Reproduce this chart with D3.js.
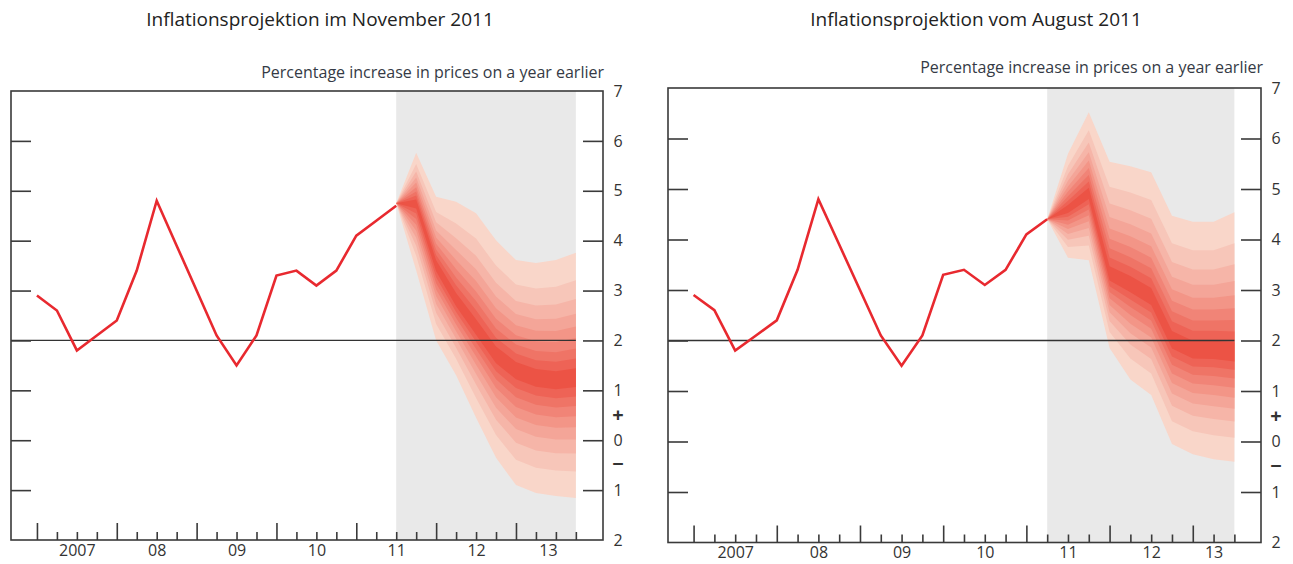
<!DOCTYPE html>
<html>
<head>
<meta charset="utf-8">
<script src="https://cdnjs.cloudflare.com/ajax/libs/d3/7.8.5/d3.min.js"></script>
<style>
  body { margin: 0; background: #fff; }
  svg { display: block; font-family: "Open Sans", "Noto Sans", sans-serif; }
</style>
</head>
<body>
<svg id="chart" width="1293" height="564"></svg>
<script>
// quarterly CPI inflation, index 0 = 2007 Q1
const cpiHistory = [2.9, 2.6, 1.8, 2.1, 2.4, 3.4, 4.8, 3.9, 3.0, 2.1, 1.5, 2.1, 3.3, 3.4, 3.1, 3.4, 4.1, 4.4, 4.7];
const yearLabels = ["2007", "08", "09", "10", "11", "12", "13"];
const yTickValues = [6, 5, 4, 3, 2, 1, 0, -1];
const yLabelValues = [7, 6, 5, 4, 3, 2, 1, 0, -1, -2];

// November 2011 fan (mode and outer 90% bounds)
const novQuarters = [18, 19, 20, 21, 22, 23, 24, 25, 26, 27];
const novMode  = [4.75, 4.75, 3.5, 2.8, 2.25, 1.7, 1.4, 1.25, 1.2, 1.25];
const novUpper = [4.75, 5.76, 4.88, 4.78, 4.55, 4.01, 3.61, 3.55, 3.61, 3.76];
const novLower = [4.75, 3.4, 2.0, 1.3, 0.45, -0.35, -0.9, -1.06, -1.12, -1.16];

// August 2011 fan
const augQuarters = [17, 18, 19, 20, 21, 22, 23, 24, 25, 26];
const augMode  = [4.4, 4.6, 4.9, 3.3, 3.1, 2.85, 2.0, 1.8, 1.8, 1.75];
const augUpper = [4.4, 5.7, 6.52, 5.54, 5.45, 5.33, 4.47, 4.35, 4.35, 4.54];
const augLower = [4.4, 3.64, 3.59, 1.85, 1.23, 0.92, -0.05, -0.25, -0.35, -0.4];

// standard normal quantiles for central 10%..90% bands
const Z = [0.1257, 0.2533, 0.3853, 0.5244, 0.6745, 0.8416, 1.0364, 1.2816, 1.6449];

const svg = d3.select("#chart");
const bandColour = d3.interpolateRgb("#f9d6c9", "#ec5345");

function drawChart(c) {
  const g = svg.append("g");
  const x = d3.scaleLinear().domain(c.xDomain).range([c.left, c.right]);
  const y = d3.scaleLinear().domain([-2, 7]).range([c.bottom, c.top]);

  // projection shading
  g.append("rect")
    .attr("x", x(c.fanQ[0]))
    .attr("y", c.top)
    .attr("width", x(c.lastQ) - x(c.fanQ[0]))
    .attr("height", c.bottom - c.top)
    .attr("fill", "#e9e9e9");

  const rows = c.fanQ.map((q, i) => ({ q: q, m: c.mode[i], hi: c.upper[i], lo: c.lower[i] }));
  const area = d3.area().x(d => x(d.q)).y0(d => y(d.lo)).y1(d => y(d.hi));

  for (let k = Z.length - 1; k >= 0; k--) {
    const s = Z[k] / Z[Z.length - 1];
    const band = rows.map(r => ({ q: r.q, hi: r.m + (r.hi - r.m) * s, lo: r.m - (r.m - r.lo) * s }));
    g.append("path")
      .attr("d", area(band))
      .attr("fill", bandColour(1 - k / (Z.length - 1)));
  }

  // 2% target line
  g.append("line")
    .attr("x1", c.left).attr("x2", x(c.lastQ))
    .attr("y1", y(2)).attr("y2", y(2))
    .attr("stroke", "#333").attr("stroke-width", 1.3);

  // history
  const line = d3.line().x((d, i) => x(i)).y(d => y(d));
  g.append("path")
    .attr("d", line(cpiHistory.slice(0, c.fanQ[0] + 1)))
    .attr("fill", "none")
    .attr("stroke", "#e8292f")
    .attr("stroke-width", 2.6);

  // frame
  g.append("rect")
    .attr("x", c.left).attr("y", c.top)
    .attr("width", c.right - c.left).attr("height", c.bottom - c.top)
    .attr("fill", "none").attr("stroke", "#3a3a3a").attr("stroke-width", 1.6);

  const tickStyle = sel => {
    sel.select(".domain").remove();
    sel.selectAll(".tick line").attr("stroke", "#3a3a3a").attr("stroke-width", 1.6);
    sel.selectAll(".tick text").remove();
  };
  const labelStyle = sel => {
    sel.attr("font-family", null).attr("font-size", null);
    sel.select(".domain").remove();
    sel.selectAll("text").attr("font-size", 16).attr("fill", "#333");
  };

  g.append("g").attr("transform", `translate(${c.left},0)`)
    .call(d3.axisRight(y).tickValues(yTickValues).tickSize(20)).call(tickStyle);
  g.append("g").attr("transform", `translate(${c.right},0)`)
    .call(d3.axisLeft(y).tickValues(yTickValues).tickSize(20)).call(tickStyle);

  const quarters = d3.range(0, c.lastQ + 1);
  g.append("g").attr("transform", `translate(0,${c.bottom})`)
    .call(d3.axisBottom(x).tickValues(quarters.filter(q => q % 4 === 0)).tickSizeInner(-17).tickSizeOuter(0)).call(tickStyle);
  g.append("g").attr("transform", `translate(0,${c.bottom})`)
    .call(d3.axisBottom(x).tickValues(quarters.filter(q => q % 4 !== 0)).tickSizeInner(-8).tickSizeOuter(0)).call(tickStyle);

  // year labels
  g.append("g").attr("transform", `translate(0,${c.bottom})`)
    .call(d3.axisBottom(x).tickValues(c.labelQ).tickSize(0).tickPadding(c.labelPad)
      .tickFormat((d, i) => yearLabels[i]))
    .call(labelStyle);

  // right hand value labels
  const rl = g.append("g").attr("transform", `translate(${c.right + 15},0)`)
    .call(d3.axisRight(y).tickValues(yLabelValues).tickSize(0).tickPadding(0)
      .tickFormat(d => Math.abs(d)))
    .call(labelStyle);
  rl.selectAll("text").attr("text-anchor", "middle");
  rl.append("text").attr("y", y(0.5)).attr("dy", "0.34em").attr("text-anchor", "middle")
    .attr("font-size", 20).attr("font-weight", "bold").attr("fill", "#333").text("+");
  rl.append("text").attr("y", y(-0.5)).attr("dy", "0.3em").attr("text-anchor", "middle")
    .attr("font-size", 20).attr("font-weight", "bold").attr("fill", "#333").text("\u2212");

  // titles
  g.append("text")
    .attr("x", c.titleX).attr("y", 26)
    .attr("text-anchor", "middle").attr("font-size", 19).attr("fill", "#222")
    .text(c.title);
  g.append("text")
    .attr("x", c.subX).attr("y", c.subY)
    .attr("text-anchor", "end").attr("font-size", 16).attr("fill", "#353a45")
    .text("Percentage increase in prices on a year earlier");
}

drawChart({
  title: "Inflationsprojektion im November 2011",
  titleX: 320, subX: 604, subY: 78,
  left: 11, right: 603, top: 91, bottom: 540,
  xDomain: [-1.3, 28.36],
  lastQ: 27,
  fanQ: novQuarters, mode: novMode, upper: novUpper, lower: novLower,
  labelQ: [2, 6, 10, 14, 18, 22, 25.6],
  labelPad: 5
});

drawChart({
  title: "Inflationsprojektion vom August 2011",
  titleX: 976, subX: 1263, subY: 73,
  left: 668, right: 1261, top: 88, bottom: 542.5,
  xDomain: [-1.23, 27.28],
  lastQ: 26,
  fanQ: augQuarters, mode: augMode, upper: augUpper, lower: augLower,
  labelQ: [2, 6, 10, 14, 18, 22, 25],
  labelPad: 4
});
</script>
</body>
</html>
